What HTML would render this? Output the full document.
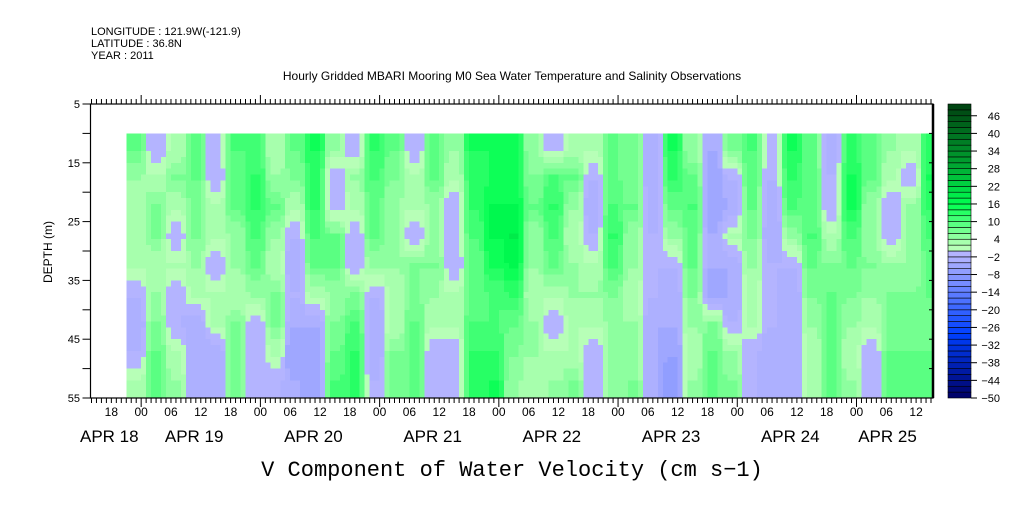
<!DOCTYPE html>
<html><head><meta charset="utf-8"><style>
body{margin:0;background:#fff}
svg text{font-family:"Liberation Sans",sans-serif;fill:#000}
</style></head><body>
<svg width="1009" height="504" xmlns="http://www.w3.org/2000/svg" id="svg">
<g font-size="11">
<text x="91" y="35">LONGITUDE : 121.9W(-121.9)</text>
<text x="91" y="47">LATITUDE : 36.8N</text>
<text x="91" y="59">YEAR : 2011</text>
<text x="512" y="80" text-anchor="middle" font-size="12">Hourly Gridded MBARI Mooring M0 Sea Water Temperature and Salinity Observations</text>
</g>
<g id="cells" shape-rendering="crispEdges"></g>
<g id="axes"></g>
<g id="cbar"></g>
<text x="512" y="476" text-anchor="middle" font-size="22" style="font-family:'Liberation Mono',monospace">V Component of Water Velocity (cm s−1)</text>
<text transform="translate(52,252) rotate(-90)" text-anchor="middle" font-size="12">DEPTH (m)</text>
</svg>
<script>
// hour centers (hours since Apr 18 00:00), 4-hour columns
const hours=[23,27,31,35,39,43,47,51,55,59,63,67,71,75,79,83,87,91,95,99,103,107,111,115,119,123,127,131,135,139,143,147,151,155,159,163,167,171,175,179,183];
const depths=[10,15,20,25,30,35,40,45,50];
const values=[
[8,4,2,2,2,-2,-4,-2,2],[-2,2,6,6,2,4,6,8,8],[2,6,2,-2,2,-2,-2,2,4],[8,8,6,6,4,2,-4,-4,-4],
[-2,-2,2,2,-2,2,2,-4,-4],[10,8,8,4,4,2,6,6,6],[10,12,12,10,8,4,-2,-2,-2],[2,4,8,4,2,6,6,2,-2],
[8,6,2,-2,-4,-2,-4,-6,-4],[14,12,12,10,8,2,-4,-6,-6],[4,-2,-2,8,8,4,6,8,10],[-2,4,2,-2,-2,6,10,12,12],
[12,10,8,8,4,-2,-4,-4,-2],[8,6,4,4,4,2,2,6,6],[-2,2,2,-2,6,6,8,8,8],[8,8,4,4,6,4,2,-2,-2],
[4,2,-2,-2,-2,2,2,-2,-2],[14,12,12,10,8,8,10,12,12],[14,14,16,16,14,10,10,12,14],[14,14,16,18,16,12,8,6,4],
[4,6,8,4,4,2,4,4,2],[-2,10,12,10,8,2,-2,2,4],[2,8,4,2,4,4,2,2,6],[2,-2,-4,-2,2,4,2,-2,-2],
[8,8,10,12,10,6,4,4,4],[6,6,8,4,4,2,4,4,6],[-4,-4,-4,-2,-2,-2,-4,-4,-4],[14,12,8,4,-2,-4,-4,-6,-8],
[4,8,10,8,8,6,4,2,4],[-4,-6,-6,-4,-4,-6,6,8,8],[6,-2,-4,2,-4,-4,-2,4,6],[10,8,8,6,4,2,2,-2,-2],
[-2,-2,-4,-4,-2,-2,-2,-4,-4],[14,12,10,4,-2,-4,-4,-4,-4],[8,8,8,10,8,6,4,2,2],[-4,-2,-2,2,6,8,8,8,8],
[12,14,14,10,8,6,4,2,4],[8,8,4,4,6,4,2,-2,-2],[4,2,-2,-2,4,6,6,8,8],[2,-2,4,4,4,6,6,8,8],[12,14,12,10,8,8,6,8,8]];
const cbLabels=[46,40,34,28,22,16,10,4,-2,-8,-14,-20,-26,-32,-38,-44,-50];
const dayNames=["APR 18","APR 19","APR 20","APR 21","APR 22","APR 23","APR 24","APR 25"];
const depthTicks=[5,15,25,35,45,55];

const L=90.5,R=933,T=104,B=398,H0=13.8,H1=183.4;
const xs=h=>L+(h-H0)*(R-L)/(H1-H0);
const ys=d=>T+(d-5)*(B-T)/50;
const NS="http://www.w3.org/2000/svg";
function mk(tag,parent,attrs){const e=document.createElementNS(NS,tag);for(const k in attrs)e.setAttribute(k,attrs[k]);parent.appendChild(e);return e;}
const stops=[[-50,[0,0,100]],[-28,[0,64,255]],[-2,[180,180,255]],[0,[180,180,255]],[0.01,[185,255,185]],[2,[180,255,180]],[16,[0,255,80]],[30,[0,160,48]],[50,[0,64,16]]];
function cbColor(v){
 for(let i=0;i<stops.length-1;i++){const a=stops[i],b=stops[i+1];
  if(v>=a[0]&&v<=b[0]){const t=(v-a[0])/(b[0]-a[0]);const c=a[1].map((x,k)=>Math.round(x+(b[1][k]-x)*t));return `rgb(${c[0]},${c[1]},${c[2]})`;}}
 return v<0?"rgb(0,0,100)":"rgb(0,64,16)";
}
function binColor(v){const lo=Math.floor(v/2)*2;return cbColor(lo+1);}
function valAt(h,d){
 let fi=(h-hours[0])/4, fj=(d-(depths[0]+2.5))/5;
 fi=Math.max(0,Math.min(hours.length-1,fi)); fj=Math.max(0,Math.min(depths.length-1,fj));
 const i0=Math.floor(fi),j0=Math.floor(fj),i1=Math.min(i0+1,hours.length-1),j1=Math.min(j0+1,depths.length-1);
 let ti=fi-i0; ti=Math.max(0,Math.min(1,(ti-0.3)/0.4));
 const tj=fj-j0;
 const a=values[i0][j0]*(1-tj)+values[i0][j1]*tj, b=values[i1][j0]*(1-tj)+values[i1][j1]*tj;
 return a*(1-ti)+b*ti;
}
const cg=document.getElementById('cells');
for(let h=21;h<H1;h+=1){for(let d=10;d<55;d+=1){
 const v=valAt(h+0.5,d+0.5);
 const x0=xs(h),x1=Math.min(xs(h+1),R);
 const r=mk('rect',cg,{x:x0,y:ys(d),width:x1-x0+0.3,height:ys(d+1)-ys(d)+0.3,fill:binColor(v)});
 
 
}}
const ax=document.getElementById('axes');
const frame=mk('rect',ax,{x:L,y:T,width:R-L,height:B-T,fill:"none",stroke:"#000","stroke-width":1.2});


mk('line',ax,{x1:R,y1:T,x2:R,y2:B,stroke:"#000","stroke-width":2.5});
for(let h=14;h<=183;h++){
 const x=xs(h),maj=h%24===0;const len=maj?9:5;
 mk('line',ax,{x1:x,y1:T,x2:x,y2:T-len,stroke:"#000","stroke-width":1});
 mk('line',ax,{x1:x,y1:B,x2:x,y2:B+len,stroke:"#000","stroke-width":1});
 if(h%6===0){const t=mk('text',ax,{x:x,y:416,"text-anchor":"middle","font-size":12});t.textContent=String(h%24).padStart(2,'0');
  
  }
}
dayNames.forEach((n,i)=>{
 const x=i===0?80:(i===7?xs(24*i)+31:xs(24*i)+53);
 const t=mk('text',ax,{x:x,y:442,"text-anchor":i===0?"start":"middle","font-size":17});t.textContent=n;
 
 
});
for(let d=5;d<=55;d+=5){const y=ys(d);
 mk('line',ax,{x1:L,y1:y,x2:L-8,y2:y,stroke:"#000"});
 mk('line',ax,{x1:R,y1:y,x2:R-4,y2:y,stroke:"#000"});}
depthTicks.forEach(d=>{const t=mk('text',ax,{x:80,y:ys(d)+4,"text-anchor":"end","font-size":11});t.textContent=d;
 
 });
// colorbar
const cb=document.getElementById('cbar');
const cx=948,cw=23;const cy=v=>T+(50-v)*(B-T)/100;
for(let v=-50;v<50;v+=2){
 const r=mk('rect',cb,{x:cx,y:cy(v+2),width:cw,height:cy(v)-cy(v+2),fill:cbColor(v+1),stroke:"#000","stroke-width":0.6});
 
 
}
cbLabels.forEach(v=>{const y=cy(v);mk('line',cb,{x1:cx+cw,y1:y,x2:cx+cw+6,y2:y,stroke:"#000"});
 const t=mk('text',cb,{x:1000,y:y+4,"text-anchor":"end","font-size":11});t.textContent=v<0?"−"+(-v):v;
 
 });
</script>
</body></html>
